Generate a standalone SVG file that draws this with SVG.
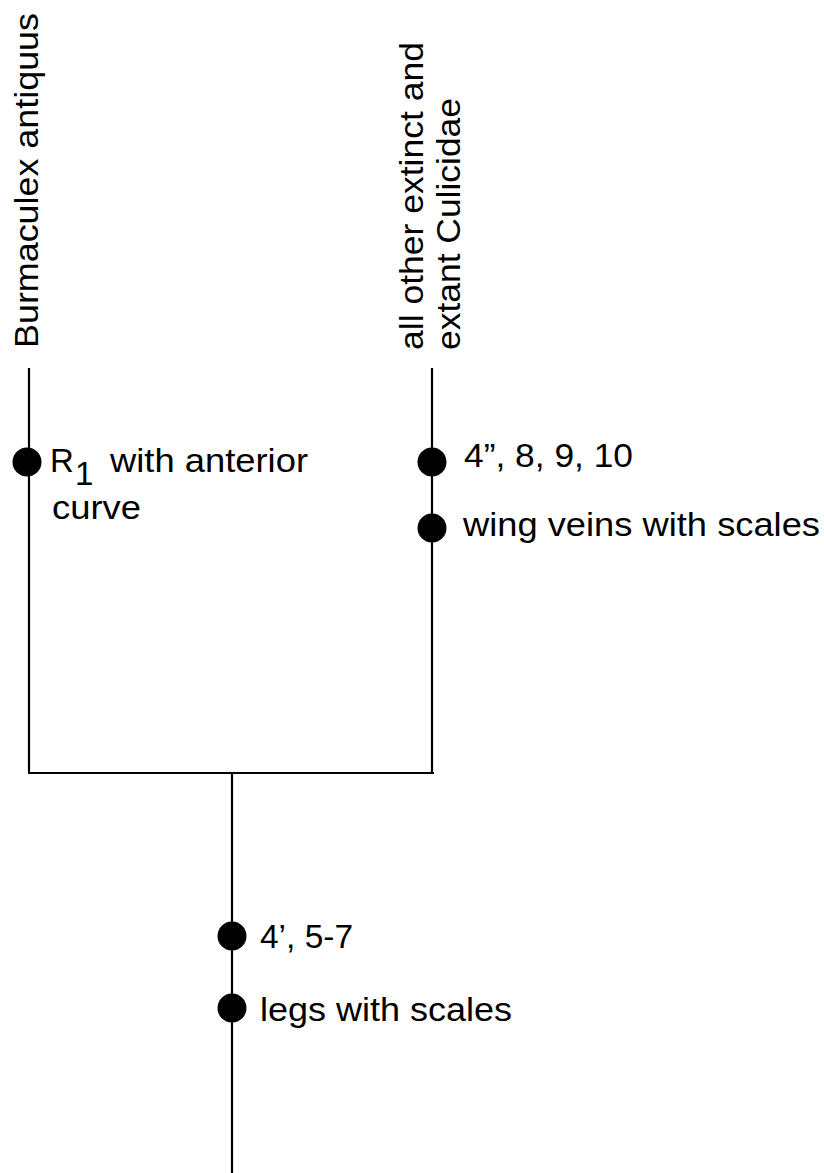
<svg xmlns="http://www.w3.org/2000/svg" width="824" height="1173" viewBox="0 0 824 1173">
<style>
.t{font-family:"Liberation Sans",Arial,sans-serif;font-size:33px;fill:#000}
.ln{stroke:#000;stroke-width:2.2;fill:none}
.dot{fill:#000}
</style>
<rect width="824" height="1173" fill="#fff"/>
<g id="connectors">
<path class="ln" d="M29 368 V773 M432 368 V772 M28 773 H434 M232 773 V1173"/>
</g>
<g id="taxon-burmaculex">
<text class="t" transform="translate(38,348) rotate(-90)" textLength="335" lengthAdjust="spacingAndGlyphs">Burmaculex antiquus</text>
</g>
<g id="taxon-culicidae">
<text class="t" transform="translate(423,350) rotate(-90)" textLength="308" lengthAdjust="spacingAndGlyphs">all other extinct and</text>
<text class="t" transform="translate(460,350) rotate(-90)" textLength="252" lengthAdjust="spacingAndGlyphs">extant Culicidae</text>
</g>
<g id="char-r1">
<circle class="dot" cx="27" cy="462" r="14.5"/>
<text class="t" x="50" y="472">R</text>
<text class="t" x="75" y="485">1</text>
<text class="t" x="110" y="472" textLength="198" lengthAdjust="spacingAndGlyphs">with anterior</text>
<text class="t" x="52" y="519" textLength="89" lengthAdjust="spacingAndGlyphs">curve</text>
</g>
<g id="char-4pp">
<circle class="dot" cx="432" cy="462" r="14.5"/>
<text class="t" x="464" y="467" textLength="169" lengthAdjust="spacingAndGlyphs">4”, 8, 9, 10</text>
</g>
<g id="char-wing">
<circle class="dot" cx="432" cy="528" r="14.5"/>
<text class="t" x="463" y="536" textLength="357" lengthAdjust="spacingAndGlyphs">wing veins with scales</text>
</g>
<g id="char-4p">
<circle class="dot" cx="232" cy="936" r="14.5"/>
<text class="t" x="260" y="948" textLength="93" lengthAdjust="spacingAndGlyphs">4’, 5-7</text>
</g>
<g id="char-legs">
<circle class="dot" cx="232" cy="1008" r="14.5"/>
<text class="t" x="260" y="1021" textLength="252" lengthAdjust="spacingAndGlyphs">legs with scales</text>
</g>
</svg>
